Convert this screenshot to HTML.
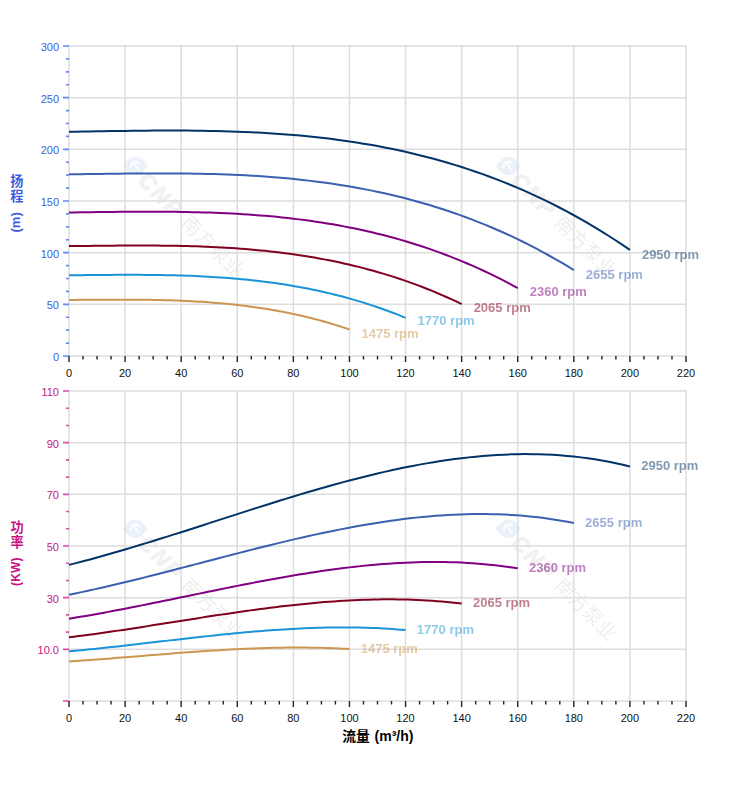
<!DOCTYPE html>
<html><head><meta charset="utf-8"><title>Pump curves</title>
<style>html,body{margin:0;padding:0;background:#fff;}body{width:752px;height:797px;overflow:hidden;font-family:"Liberation Sans",sans-serif;}</style>
</head><body>
<svg width="752" height="797" viewBox="0 0 752 797" style="display:block;font-family:'Liberation Sans',sans-serif">
<defs><filter id="wb" x="-20%" y="-20%" width="140%" height="140%"><feGaussianBlur stdDeviation="0.55"/></filter></defs>
<rect width="752" height="797" fill="#fff"/>
<path d="M69 45V357M125.09 45V357M181.18 45V357M237.27 45V357M293.36 45V357M349.45 45V357M405.55 45V357M461.64 45V357M517.73 45V357M573.82 45V357M629.91 45V357M686 45V357M68 356H687M68 304.33H687M68 252.67H687M68 201H687M68 149.33H687M68 97.67H687M68 46H687M69 390V702M125.09 390V702M181.18 390V702M237.27 390V702M293.36 390V702M349.45 390V702M405.55 390V702M461.64 390V702M517.73 390V702M573.82 390V702M629.91 390V702M686 390V702M68 701H687M68 649.33H687M68 597.67H687M68 546H687M68 494.33H687M68 442.67H687M68 391H687" stroke="#dddddd" stroke-width="1.5" fill="none"/>
<g transform="translate(135.4 166)" opacity="0.43" filter="url(#wb)"><path d="M-13.5 0 L-6 -7 A9.5 9.5 0 0 1 6.5 -7 L12.5 0 L6.5 7 A9.5 9.5 0 0 1 -6 7 Z" fill="#cfe0f3"/><path d="M-4.5 1.2 A4.6 4.6 0 0 1 3.6 -2.6 M-1.2 -2.2 L3.2 3.8" stroke="#fff" stroke-width="1.9" fill="none" stroke-linecap="round"/><g transform="rotate(45)"><text x="20" y="9.8" font-size="22" font-weight="bold" font-style="italic" text-anchor="middle" fill="#dfdfdf" stroke="#dfdfdf" stroke-width="1.1">C</text><text x="38.5" y="9.8" font-size="22" font-weight="bold" font-style="italic" text-anchor="middle" fill="#dfdfdf" stroke="#dfdfdf" stroke-width="1.1">N</text><text x="56" y="9.8" font-size="22" font-weight="bold" font-style="italic" text-anchor="middle" fill="#dfdfdf" stroke="#dfdfdf" stroke-width="1.1">P</text><text x="72.5" y="9.2" font-size="19.5" letter-spacing="0.1" fill="#d8d8d8" style="font-family:'Liberation Sans','Noto Sans CJK SC',sans-serif">南方泵业</text></g></g><g transform="translate(508.4 166)" opacity="0.43" filter="url(#wb)"><path d="M-13.5 0 L-6 -7 A9.5 9.5 0 0 1 6.5 -7 L12.5 0 L6.5 7 A9.5 9.5 0 0 1 -6 7 Z" fill="#cfe0f3"/><path d="M-4.5 1.2 A4.6 4.6 0 0 1 3.6 -2.6 M-1.2 -2.2 L3.2 3.8" stroke="#fff" stroke-width="1.9" fill="none" stroke-linecap="round"/><g transform="rotate(45)"><text x="20" y="9.8" font-size="22" font-weight="bold" font-style="italic" text-anchor="middle" fill="#dfdfdf" stroke="#dfdfdf" stroke-width="1.1">C</text><text x="38.5" y="9.8" font-size="22" font-weight="bold" font-style="italic" text-anchor="middle" fill="#dfdfdf" stroke="#dfdfdf" stroke-width="1.1">N</text><text x="56" y="9.8" font-size="22" font-weight="bold" font-style="italic" text-anchor="middle" fill="#dfdfdf" stroke="#dfdfdf" stroke-width="1.1">P</text><text x="72.5" y="9.2" font-size="19.5" letter-spacing="0.1" fill="#d8d8d8" style="font-family:'Liberation Sans','Noto Sans CJK SC',sans-serif">南方泵业</text></g></g><g transform="translate(135.4 528.7)" opacity="0.43" filter="url(#wb)"><path d="M-13.5 0 L-6 -7 A9.5 9.5 0 0 1 6.5 -7 L12.5 0 L6.5 7 A9.5 9.5 0 0 1 -6 7 Z" fill="#cfe0f3"/><path d="M-4.5 1.2 A4.6 4.6 0 0 1 3.6 -2.6 M-1.2 -2.2 L3.2 3.8" stroke="#fff" stroke-width="1.9" fill="none" stroke-linecap="round"/><g transform="rotate(45)"><text x="20" y="9.8" font-size="22" font-weight="bold" font-style="italic" text-anchor="middle" fill="#dfdfdf" stroke="#dfdfdf" stroke-width="1.1">C</text><text x="38.5" y="9.8" font-size="22" font-weight="bold" font-style="italic" text-anchor="middle" fill="#dfdfdf" stroke="#dfdfdf" stroke-width="1.1">N</text><text x="56" y="9.8" font-size="22" font-weight="bold" font-style="italic" text-anchor="middle" fill="#dfdfdf" stroke="#dfdfdf" stroke-width="1.1">P</text><text x="72.5" y="9.2" font-size="19.5" letter-spacing="0.1" fill="#d8d8d8" style="font-family:'Liberation Sans','Noto Sans CJK SC',sans-serif">南方泵业</text></g></g><g transform="translate(508.4 528.7)" opacity="0.43" filter="url(#wb)"><path d="M-13.5 0 L-6 -7 A9.5 9.5 0 0 1 6.5 -7 L12.5 0 L6.5 7 A9.5 9.5 0 0 1 -6 7 Z" fill="#cfe0f3"/><path d="M-4.5 1.2 A4.6 4.6 0 0 1 3.6 -2.6 M-1.2 -2.2 L3.2 3.8" stroke="#fff" stroke-width="1.9" fill="none" stroke-linecap="round"/><g transform="rotate(45)"><text x="20" y="9.8" font-size="22" font-weight="bold" font-style="italic" text-anchor="middle" fill="#dfdfdf" stroke="#dfdfdf" stroke-width="1.1">C</text><text x="38.5" y="9.8" font-size="22" font-weight="bold" font-style="italic" text-anchor="middle" fill="#dfdfdf" stroke="#dfdfdf" stroke-width="1.1">N</text><text x="56" y="9.8" font-size="22" font-weight="bold" font-style="italic" text-anchor="middle" fill="#dfdfdf" stroke="#dfdfdf" stroke-width="1.1">P</text><text x="72.5" y="9.2" font-size="19.5" letter-spacing="0.1" fill="#d8d8d8" style="font-family:'Liberation Sans','Noto Sans CJK SC',sans-serif">南方泵业</text></g></g>
<path d="M63 46H69M66 58.92H69M66 71.83H69M66 84.75H69M63 97.67H69M66 110.58H69M66 123.5H69M66 136.42H69M63 149.33H69M66 162.25H69M66 175.17H69M66 188.08H69M63 201H69M66 213.92H69M66 226.83H69M66 239.75H69M63 252.67H69M66 265.58H69M66 278.5H69M66 291.42H69M63 304.33H69M66 317.25H69M66 330.17H69M66 343.08H69M63 356H69" stroke="#6a88ec" stroke-width="1.6" fill="none"/>
<path d="M63 391H69M66 408.22H69M66 425.44H69M63 442.67H69M66 459.89H69M66 477.11H69M63 494.33H69M66 511.56H69M66 528.78H69M63 546H69M66 563.22H69M66 580.44H69M63 597.67H69M66 614.89H69M66 632.11H69M63 649.33H69M63 701H69" stroke="#d94fa3" stroke-width="1.6" fill="none"/>
<path d="M69 356v6M83.02 356v3.5M97.05 356v3.5M111.07 356v3.5M125.09 356v6M139.11 356v3.5M153.14 356v3.5M167.16 356v3.5M181.18 356v6M195.2 356v3.5M209.23 356v3.5M223.25 356v3.5M237.27 356v6M251.3 356v3.5M265.32 356v3.5M279.34 356v3.5M293.36 356v6M307.39 356v3.5M321.41 356v3.5M335.43 356v3.5M349.45 356v6M363.48 356v3.5M377.5 356v3.5M391.52 356v3.5M405.55 356v6M419.57 356v3.5M433.59 356v3.5M447.61 356v3.5M461.64 356v6M475.66 356v3.5M489.68 356v3.5M503.7 356v3.5M517.73 356v6M531.75 356v3.5M545.77 356v3.5M559.8 356v3.5M573.82 356v6M587.84 356v3.5M601.86 356v3.5M615.89 356v3.5M629.91 356v6M643.93 356v3.5M657.95 356v3.5M671.98 356v3.5M686 356v6" stroke="#222" stroke-width="1.4" fill="none"/>
<path d="M69 701v6M83.02 701v3.5M97.05 701v3.5M111.07 701v3.5M125.09 701v6M139.11 701v3.5M153.14 701v3.5M167.16 701v3.5M181.18 701v6M195.2 701v3.5M209.23 701v3.5M223.25 701v3.5M237.27 701v6M251.3 701v3.5M265.32 701v3.5M279.34 701v3.5M293.36 701v6M307.39 701v3.5M321.41 701v3.5M335.43 701v3.5M349.45 701v6M363.48 701v3.5M377.5 701v3.5M391.52 701v3.5M405.55 701v6M419.57 701v3.5M433.59 701v3.5M447.61 701v3.5M461.64 701v6M475.66 701v3.5M489.68 701v3.5M503.7 701v3.5M517.73 701v6M531.75 701v3.5M545.77 701v3.5M559.8 701v3.5M573.82 701v6M587.84 701v3.5M601.86 701v3.5M615.89 701v3.5M629.91 701v6M643.93 701v3.5M657.95 701v3.5M671.98 701v3.5M686 701v6" stroke="#222" stroke-width="1.4" fill="none"/>
<g font-size="11" fill="#4060e0" text-anchor="end">
<text x="59" y="361">0</text>
<text x="59" y="309.33">50</text>
<text x="59" y="257.67">100</text>
<text x="59" y="206">150</text>
<text x="59" y="154.33">200</text>
<text x="59" y="102.67">250</text>
<text x="59" y="51">300</text>
</g>
<g font-size="11" fill="#c71585" text-anchor="end">
<text x="59" y="654.33">10.0</text>
<text x="59" y="602.67">30</text>
<text x="59" y="551">50</text>
<text x="59" y="499.33">70</text>
<text x="59" y="447.67">90</text>
<text x="59" y="396">110</text>
</g>
<g font-size="11" fill="#111" text-anchor="middle">
<text x="69" y="377">0</text>
<text x="125.09" y="377">20</text>
<text x="181.18" y="377">40</text>
<text x="237.27" y="377">60</text>
<text x="293.36" y="377">80</text>
<text x="349.45" y="377">100</text>
<text x="405.55" y="377">120</text>
<text x="461.64" y="377">140</text>
<text x="517.73" y="377">160</text>
<text x="573.82" y="377">180</text>
<text x="629.91" y="377">200</text>
<text x="686" y="377">220</text>
<text x="69" y="722">0</text>
<text x="125.09" y="722">20</text>
<text x="181.18" y="722">40</text>
<text x="237.27" y="722">60</text>
<text x="293.36" y="722">80</text>
<text x="349.45" y="722">100</text>
<text x="405.55" y="722">120</text>
<text x="461.64" y="722">140</text>
<text x="517.73" y="722">160</text>
<text x="573.82" y="722">180</text>
<text x="629.91" y="722">200</text>
<text x="686" y="722">220</text>
</g>
<path d="M69 131.76L76.01 131.65L83.02 131.53L90.03 131.42L97.05 131.3L104.06 131.19L111.07 131.08L118.08 130.98L125.09 130.88L132.1 130.79L139.11 130.72L146.12 130.65L153.14 130.6L160.15 130.56L167.16 130.54L174.17 130.54L181.18 130.56L188.19 130.6L195.2 130.67L202.22 130.76L209.23 130.88L216.24 131.02L223.25 131.2L230.26 131.41L237.27 131.65L244.28 131.93L251.3 132.24L258.31 132.6L265.32 132.99L272.33 133.43L279.34 133.9L286.35 134.43L293.36 135L300.38 135.62L307.39 136.29L314.4 137.01L321.41 137.78L328.42 138.61L335.43 139.5L342.44 140.44L349.45 141.45L356.47 142.51L363.48 143.64L370.49 144.84L377.5 146.1L384.51 147.43L391.52 148.83L398.53 150.3L405.55 151.85L412.56 153.47L419.57 155.17L426.58 156.94L433.59 158.8L440.6 160.73L447.61 162.75L454.62 164.86L461.64 167.05L468.65 169.33L475.66 171.7L482.67 174.16L489.68 176.72L496.69 179.37L503.7 182.11L510.72 184.96L517.73 187.9L524.74 190.95L531.75 194.09L538.76 197.35L545.77 200.71L552.78 204.18L559.8 207.75L566.81 211.44L573.82 215.25L580.83 219.16L587.84 223.2L594.85 227.35L601.86 231.62L608.88 236.01L615.89 240.53L622.9 245.17L629.91 249.94" stroke="#003366" stroke-width="2" fill="none" stroke-linejoin="round"/>
<path d="M69 564.87L76.01 563.1L83.02 561.27L90.03 559.41L97.05 557.5L104.06 555.55L111.07 553.56L118.08 551.54L125.09 549.49L132.1 547.41L139.11 545.29L146.12 543.16L153.14 541L160.15 538.82L167.16 536.62L174.17 534.4L181.18 532.18L188.19 529.93L195.2 527.68L202.22 525.43L209.23 523.17L216.24 520.9L223.25 518.64L230.26 516.38L237.27 514.12L244.28 511.87L251.3 509.63L258.31 507.4L265.32 505.18L272.33 502.99L279.34 500.8L286.35 498.65L293.36 496.51L300.38 494.4L307.39 492.31L314.4 490.26L321.41 488.24L328.42 486.25L335.43 484.3L342.44 482.39L349.45 480.52L356.47 478.7L363.48 476.92L370.49 475.19L377.5 473.51L384.51 471.89L391.52 470.32L398.53 468.81L405.55 467.35L412.56 465.97L419.57 464.64L426.58 463.38L433.59 462.19L440.6 461.08L447.61 460.04L454.62 459.07L461.64 458.18L468.65 457.38L475.66 456.65L482.67 456.02L489.68 455.47L496.69 455.01L503.7 454.64L510.72 454.37L517.73 454.19L524.74 454.12L531.75 454.15L538.76 454.28L545.77 454.51L552.78 454.86L559.8 455.32L566.81 455.89L573.82 456.58L580.83 457.38L587.84 458.3L594.85 459.35L601.86 460.52L608.88 461.82L615.89 463.25L622.9 464.81L629.91 466.51" stroke="#003366" stroke-width="2" fill="none" stroke-linejoin="round"/>
<path d="M69 174.36L75.31 174.27L81.62 174.18L87.93 174.09L94.24 173.99L100.55 173.9L106.86 173.81L113.17 173.73L119.48 173.65L125.79 173.58L132.1 173.52L138.41 173.47L144.72 173.42L151.03 173.4L157.34 173.38L163.65 173.38L169.96 173.4L176.27 173.43L182.58 173.48L188.89 173.56L195.2 173.65L201.51 173.77L207.83 173.91L214.14 174.08L220.45 174.28L226.76 174.5L233.07 174.76L239.38 175.04L245.69 175.36L252 175.71L258.31 176.1L264.62 176.53L270.93 176.99L277.24 177.49L283.55 178.03L289.86 178.62L296.17 179.24L302.48 179.92L308.79 180.63L315.1 181.4L321.41 182.21L327.72 183.08L334.03 183.99L340.34 184.96L346.65 185.98L352.96 187.06L359.27 188.19L365.58 189.39L371.89 190.64L378.2 191.95L384.51 193.32L390.82 194.76L397.13 196.27L403.44 197.83L409.75 199.47L416.06 201.18L422.37 202.95L428.68 204.8L434.99 206.72L441.3 208.71L447.61 210.78L453.92 212.93L460.23 215.15L466.54 217.45L472.85 219.84L479.16 222.31L485.48 224.86L491.79 227.49L498.1 230.21L504.41 233.02L510.72 235.92L517.03 238.91L523.34 241.99L529.65 245.16L535.96 248.43L542.27 251.79L548.58 255.25L554.89 258.81L561.2 262.47L567.51 266.23L573.82 270.09" stroke="#3b60b2" stroke-width="2" fill="none" stroke-linejoin="round"/>
<path d="M69 594.76L75.31 593.47L81.62 592.14L87.93 590.78L94.24 589.39L100.55 587.96L106.86 586.52L113.17 585.04L119.48 583.55L125.79 582.03L132.1 580.49L138.41 578.93L144.72 577.36L151.03 575.77L157.34 574.17L163.65 572.55L169.96 570.93L176.27 569.29L182.58 567.65L188.89 566.01L195.2 564.36L201.51 562.71L207.83 561.06L214.14 559.41L220.45 557.76L226.76 556.12L233.07 554.49L239.38 552.86L245.69 551.25L252 549.65L258.31 548.06L264.62 546.48L270.93 544.92L277.24 543.39L283.55 541.87L289.86 540.37L296.17 538.9L302.48 537.45L308.79 536.03L315.1 534.63L321.41 533.27L327.72 531.94L334.03 530.65L340.34 529.39L346.65 528.16L352.96 526.98L359.27 525.83L365.58 524.73L371.89 523.67L378.2 522.66L384.51 521.69L390.82 520.78L397.13 519.91L403.44 519.1L409.75 518.34L416.06 517.63L422.37 516.99L428.68 516.4L434.99 515.87L441.3 515.41L447.61 515.01L453.92 514.67L460.23 514.4L466.54 514.21L472.85 514.08L479.16 514.02L485.48 514.04L491.79 514.14L498.1 514.31L504.41 514.56L510.72 514.9L517.03 515.31L523.34 515.81L529.65 516.4L535.96 517.07L542.27 517.84L548.58 518.69L554.89 519.64L561.2 520.68L567.51 521.82L573.82 523.06" stroke="#3b60b2" stroke-width="2" fill="none" stroke-linejoin="round"/>
<path d="M69 212.48L74.61 212.41L80.22 212.34L85.83 212.27L91.44 212.19L97.05 212.12L102.65 212.05L108.26 211.98L113.87 211.92L119.48 211.87L125.09 211.82L130.7 211.78L136.31 211.74L141.92 211.72L147.53 211.71L153.14 211.71L158.75 211.72L164.35 211.75L169.96 211.79L175.57 211.85L181.18 211.92L186.79 212.02L192.4 212.13L198.01 212.26L203.62 212.42L209.23 212.6L214.84 212.8L220.45 213.02L226.05 213.27L231.66 213.55L237.27 213.86L242.88 214.19L248.49 214.56L254.1 214.95L259.71 215.38L265.32 215.84L270.93 216.34L276.54 216.87L282.15 217.44L287.75 218.04L293.36 218.69L298.97 219.37L304.58 220.09L310.19 220.86L315.8 221.66L321.41 222.52L327.02 223.41L332.63 224.35L338.24 225.34L343.85 226.38L349.45 227.47L355.06 228.6L360.67 229.79L366.28 231.03L371.89 232.32L377.5 233.67L383.11 235.07L388.72 236.53L394.33 238.05L399.94 239.62L405.55 241.26L411.15 242.95L416.76 244.71L422.37 246.53L427.98 248.42L433.59 250.37L439.2 252.38L444.81 254.46L450.42 256.61L456.03 258.83L461.64 261.12L467.25 263.48L472.85 265.92L478.46 268.42L484.07 271.01L489.68 273.66L495.29 276.4L500.9 279.21L506.51 282.1L512.12 285.07L517.73 288.12" stroke="#800080" stroke-width="2" fill="none" stroke-linejoin="round"/>
<path d="M69 618.7L74.61 617.79L80.22 616.85L85.83 615.9L91.44 614.92L97.05 613.92L102.65 612.91L108.26 611.87L113.87 610.82L119.48 609.75L125.09 608.67L130.7 607.58L136.31 606.47L141.92 605.36L147.53 604.23L153.14 603.1L158.75 601.96L164.35 600.81L169.96 599.66L175.57 598.5L181.18 597.34L186.79 596.18L192.4 595.02L198.01 593.87L203.62 592.71L209.23 591.56L214.84 590.41L220.45 589.27L226.05 588.14L231.66 587.01L237.27 585.89L242.88 584.79L248.49 583.69L254.1 582.61L259.71 581.55L265.32 580.49L270.93 579.46L276.54 578.44L282.15 577.44L287.75 576.47L293.36 575.51L298.97 574.58L304.58 573.67L310.19 572.78L315.8 571.92L321.41 571.09L327.02 570.28L332.63 569.51L338.24 568.77L343.85 568.06L349.45 567.38L355.06 566.73L360.67 566.13L366.28 565.55L371.89 565.02L377.5 564.53L383.11 564.07L388.72 563.66L394.33 563.29L399.94 562.96L405.55 562.68L411.15 562.45L416.76 562.26L422.37 562.12L427.98 562.03L433.59 561.99L439.2 562L444.81 562.07L450.42 562.19L456.03 562.37L461.64 562.6L467.25 562.9L472.85 563.25L478.46 563.66L484.07 564.13L489.68 564.67L495.29 565.27L500.9 565.93L506.51 566.67L512.12 567.47L517.73 568.33" stroke="#800080" stroke-width="2" fill="none" stroke-linejoin="round"/>
<path d="M69 246.12L73.91 246.07L78.82 246.01L83.72 245.95L88.63 245.9L93.54 245.84L98.45 245.79L103.36 245.74L108.26 245.69L113.17 245.65L118.08 245.61L122.99 245.58L127.9 245.55L132.8 245.54L137.71 245.53L142.62 245.53L147.53 245.54L152.44 245.56L157.34 245.59L162.25 245.63L167.16 245.69L172.07 245.76L176.98 245.85L181.88 245.95L186.79 246.07L191.7 246.21L196.61 246.36L201.51 246.53L206.42 246.73L211.33 246.94L216.24 247.17L221.15 247.43L226.05 247.71L230.96 248.01L235.87 248.34L240.78 248.69L245.69 249.07L250.59 249.48L255.5 249.91L260.41 250.38L265.32 250.87L270.23 251.39L275.13 251.95L280.04 252.53L284.95 253.15L289.86 253.8L294.77 254.49L299.67 255.21L304.58 255.97L309.49 256.76L314.4 257.59L319.31 258.46L324.21 259.37L329.12 260.32L334.03 261.31L338.94 262.34L343.85 263.41L348.75 264.53L353.66 265.69L358.57 266.9L363.48 268.15L368.39 269.45L373.29 270.79L378.2 272.19L383.11 273.63L388.02 275.12L392.93 276.67L397.83 278.26L402.74 279.91L407.65 281.61L412.56 283.36L417.46 285.17L422.37 287.03L427.28 288.95L432.19 290.93L437.1 292.96L442 295.05L446.91 297.21L451.82 299.42L456.73 301.69L461.64 304.03" stroke="#800020" stroke-width="2" fill="none" stroke-linejoin="round"/>
<path d="M69 637.34L73.91 636.73L78.82 636.1L83.72 635.46L88.63 634.81L93.54 634.14L98.45 633.46L103.36 632.76L108.26 632.06L113.17 631.34L118.08 630.62L122.99 629.89L127.9 629.15L132.8 628.4L137.71 627.64L142.62 626.89L147.53 626.12L152.44 625.35L157.34 624.58L162.25 623.81L167.16 623.03L172.07 622.25L176.98 621.48L181.88 620.7L186.79 619.93L191.7 619.16L196.61 618.39L201.51 617.62L206.42 616.86L211.33 616.11L216.24 615.36L221.15 614.62L226.05 613.89L230.96 613.16L235.87 612.45L240.78 611.74L245.69 611.05L250.59 610.37L255.5 609.7L260.41 609.05L265.32 608.4L270.23 607.78L275.13 607.17L280.04 606.58L284.95 606L289.86 605.44L294.77 604.9L299.67 604.39L304.58 603.89L309.49 603.41L314.4 602.96L319.31 602.52L324.21 602.12L329.12 601.73L334.03 601.38L338.94 601.05L343.85 600.74L348.75 600.46L353.66 600.22L358.57 600L363.48 599.81L368.39 599.65L373.29 599.53L378.2 599.43L383.11 599.37L388.02 599.35L392.93 599.36L397.83 599.4L402.74 599.48L407.65 599.6L412.56 599.76L417.46 599.95L422.37 600.19L427.28 600.47L432.19 600.78L437.1 601.14L442 601.54L446.91 601.99L451.82 602.48L456.73 603.02L461.64 603.6" stroke="#800020" stroke-width="2" fill="none" stroke-linejoin="round"/>
<path d="M69 275.27L73.21 275.23L77.41 275.19L81.62 275.15L85.83 275.11L90.03 275.07L94.24 275.03L98.45 274.99L102.65 274.96L106.86 274.93L111.07 274.9L115.28 274.87L119.48 274.86L123.69 274.84L127.9 274.84L132.1 274.84L136.31 274.84L140.52 274.86L144.72 274.88L148.93 274.91L153.14 274.96L157.34 275.01L161.55 275.07L165.76 275.15L169.96 275.23L174.17 275.33L178.38 275.45L182.58 275.57L186.79 275.72L191 275.87L195.2 276.05L199.41 276.23L203.62 276.44L207.83 276.66L212.03 276.9L216.24 277.16L220.45 277.44L224.65 277.74L228.86 278.06L233.07 278.4L237.27 278.76L241.48 279.15L245.69 279.55L249.89 279.98L254.1 280.44L258.31 280.92L262.51 281.42L266.72 281.95L270.93 282.51L275.13 283.09L279.34 283.7L283.55 284.34L287.75 285.01L291.96 285.7L296.17 286.43L300.38 287.19L304.58 287.98L308.79 288.8L313 289.65L317.2 290.54L321.41 291.46L325.62 292.41L329.82 293.4L334.03 294.42L338.24 295.48L342.44 296.58L346.65 297.71L350.86 298.89L355.06 300.09L359.27 301.34L363.48 302.63L367.68 303.96L371.89 305.33L376.1 306.74L380.3 308.19L384.51 309.69L388.72 311.22L392.93 312.8L397.13 314.43L401.34 316.1L405.55 317.82" stroke="#1a94d8" stroke-width="2" fill="none" stroke-linejoin="round"/>
<path d="M69 651.34L73.21 650.96L77.41 650.57L81.62 650.16L85.83 649.75L90.03 649.33L94.24 648.9L98.45 648.46L102.65 648.02L106.86 647.57L111.07 647.11L115.28 646.65L119.48 646.19L123.69 645.72L127.9 645.24L132.1 644.76L136.31 644.28L140.52 643.8L144.72 643.31L148.93 642.82L153.14 642.33L157.34 641.85L161.55 641.36L165.76 640.87L169.96 640.38L174.17 639.89L178.38 639.41L182.58 638.93L186.79 638.45L191 637.98L195.2 637.5L199.41 637.04L203.62 636.58L207.83 636.12L212.03 635.67L216.24 635.23L220.45 634.79L224.65 634.36L228.86 633.94L233.07 633.53L237.27 633.12L241.48 632.73L245.69 632.35L249.89 631.97L254.1 631.61L258.31 631.26L262.51 630.92L266.72 630.59L270.93 630.28L275.13 629.98L279.34 629.69L283.55 629.42L287.75 629.16L291.96 628.92L296.17 628.7L300.38 628.49L304.58 628.3L308.79 628.12L313 627.97L317.2 627.83L321.41 627.71L325.62 627.61L329.82 627.53L334.03 627.47L338.24 627.44L342.44 627.42L346.65 627.43L350.86 627.45L355.06 627.51L359.27 627.58L363.48 627.68L367.68 627.8L371.89 627.95L376.1 628.12L380.3 628.32L384.51 628.55L388.72 628.8L392.93 629.08L397.13 629.39L401.34 629.73L405.55 630.1" stroke="#1a94d8" stroke-width="2" fill="none" stroke-linejoin="round"/>
<path d="M69 299.94L72.51 299.91L76.01 299.88L79.52 299.85L83.02 299.83L86.53 299.8L90.03 299.77L93.54 299.74L97.05 299.72L100.55 299.7L104.06 299.68L107.56 299.66L111.07 299.65L114.57 299.64L118.08 299.64L121.59 299.64L125.09 299.64L128.6 299.65L132.1 299.67L135.61 299.69L139.11 299.72L142.62 299.76L146.12 299.8L149.63 299.85L153.14 299.91L156.64 299.98L160.15 300.06L163.65 300.15L167.16 300.25L170.66 300.36L174.17 300.48L177.68 300.61L181.18 300.75L184.69 300.9L188.19 301.07L191.7 301.25L195.2 301.45L198.71 301.65L202.22 301.87L205.72 302.11L209.23 302.36L212.73 302.63L216.24 302.91L219.74 303.21L223.25 303.53L226.76 303.86L230.26 304.21L233.77 304.58L237.27 304.96L240.78 305.37L244.28 305.79L247.79 306.24L251.3 306.7L254.8 307.18L258.31 307.69L261.81 308.21L265.32 308.76L268.82 309.33L272.33 309.93L275.84 310.54L279.34 311.18L282.85 311.84L286.35 312.53L289.86 313.24L293.36 313.98L296.87 314.74L300.38 315.52L303.88 316.34L307.39 317.18L310.89 318.04L314.4 318.94L317.9 319.86L321.41 320.81L324.91 321.79L328.42 322.8L331.93 323.84L335.43 324.91L338.94 326L342.44 327.13L345.95 328.29L349.45 329.48" stroke="#cc9650" stroke-width="2" fill="none" stroke-linejoin="round"/>
<path d="M69 661.38L72.51 661.16L76.01 660.93L79.52 660.7L83.02 660.46L86.53 660.21L90.03 659.97L93.54 659.71L97.05 659.46L100.55 659.2L104.06 658.93L107.56 658.67L111.07 658.4L114.57 658.12L118.08 657.85L121.59 657.57L125.09 657.29L128.6 657.01L132.1 656.73L135.61 656.45L139.11 656.17L142.62 655.88L146.12 655.6L149.63 655.32L153.14 655.04L156.64 654.75L160.15 654.47L163.65 654.2L167.16 653.92L170.66 653.64L174.17 653.37L177.68 653.1L181.18 652.83L184.69 652.57L188.19 652.31L191.7 652.05L195.2 651.8L198.71 651.55L202.22 651.31L205.72 651.07L209.23 650.84L212.73 650.61L216.24 650.39L219.74 650.17L223.25 649.96L226.76 649.76L230.26 649.56L233.77 649.37L237.27 649.19L240.78 649.02L244.28 648.85L247.79 648.69L251.3 648.55L254.8 648.41L258.31 648.28L261.81 648.15L265.32 648.04L268.82 647.94L272.33 647.85L275.84 647.77L279.34 647.7L282.85 647.65L286.35 647.6L289.86 647.57L293.36 647.55L296.87 647.54L300.38 647.54L303.88 647.56L307.39 647.59L310.89 647.63L314.4 647.69L317.9 647.76L321.41 647.84L324.91 647.94L328.42 648.06L331.93 648.19L335.43 648.34L338.94 648.5L342.44 648.68L345.95 648.87L349.45 649.08" stroke="#cc9650" stroke-width="2" fill="none" stroke-linejoin="round"/>
<g font-size="13" font-weight="bold" opacity="0.5">
<text x="641.91" y="258.64" fill="#003366">2950 rpm</text>
<text x="641.21" y="470.11" fill="#003366">2950 rpm</text>
<text x="585.82" y="278.79" fill="#3b60b2">2655 rpm</text>
<text x="585.12" y="526.66" fill="#3b60b2">2655 rpm</text>
<text x="529.73" y="296.42" fill="#800080">2360 rpm</text>
<text x="529.03" y="571.93" fill="#800080">2360 rpm</text>
<text x="473.64" y="311.73" fill="#800020">2065 rpm</text>
<text x="472.94" y="607.2" fill="#800020">2065 rpm</text>
<text x="417.55" y="325.22" fill="#1a94d8">1770 rpm</text>
<text x="416.85" y="633.7" fill="#1a94d8">1770 rpm</text>
<text x="361.45" y="337.58" fill="#cc9650">1475 rpm</text>
<text x="360.75" y="652.68" fill="#cc9650">1475 rpm</text>
</g>
<text x="10.3" y="186.2" font-size="13.2" font-weight="bold" fill="#3c5ce0" style="font-family:'Liberation Sans','Noto Sans CJK SC',sans-serif">扬</text>
<text x="10.3" y="201.2" font-size="13.2" font-weight="bold" fill="#3c5ce0" style="font-family:'Liberation Sans','Noto Sans CJK SC',sans-serif">程</text>
<text transform="translate(20.4 232.6) rotate(-90)" font-size="13" font-weight="bold" fill="#3c5ce0" textLength="20.4" lengthAdjust="spacing">(m)</text>
<text x="10.4" y="531.5" font-size="13.2" font-weight="bold" fill="#c71585" style="font-family:'Liberation Sans','Noto Sans CJK SC',sans-serif">功</text>
<text x="10.4" y="546.5" font-size="13.2" font-weight="bold" fill="#c71585" style="font-family:'Liberation Sans','Noto Sans CJK SC',sans-serif">率</text>
<text transform="translate(19.5 585.9) rotate(-90)" font-size="12" font-weight="bold" fill="#c71585" textLength="28.4" lengthAdjust="spacing">(KW)</text>
<text x="342.2" y="741.2" font-size="13.8" font-weight="bold" fill="#000" style="font-family:'Liberation Sans','Noto Sans CJK SC',sans-serif">流量</text>
<text x="374.6" y="741.2" font-size="14" font-weight="bold" fill="#000">(m³/h)</text>
</svg>
</body></html>
